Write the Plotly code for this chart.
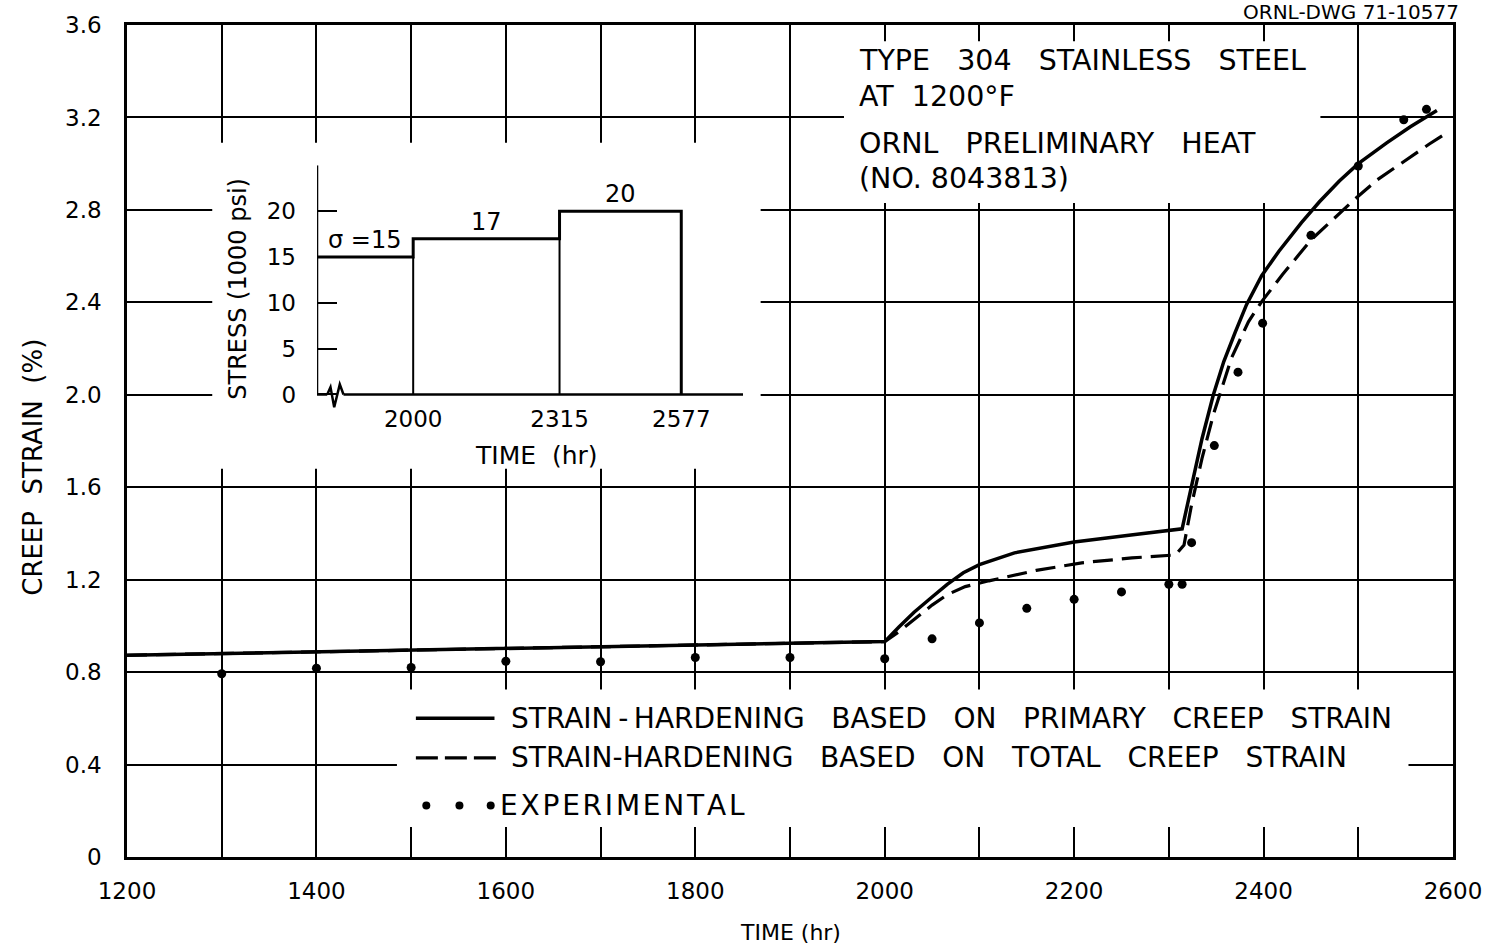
import plotly.graph_objects as go

FONT = "DejaVu Sans"

# Strain-hardening prediction based on primary creep strain (%)
t_primary = [1200, 1300, 1400, 1500, 1600, 1700, 1800, 1900, 2000, 2015, 2031, 2050,
             2066, 2083, 2100, 2137, 2170, 2200, 2260, 2314, 2324, 2335, 2347, 2358,
             2370, 2382, 2398, 2416, 2440, 2459, 2480, 2500, 2530, 2555, 2583]
eps_primary = [0.873, 0.880, 0.887, 0.895, 0.902, 0.910, 0.917, 0.925, 0.932, 0.995, 1.059, 1.125,
               1.180, 1.230, 1.265, 1.316, 1.342, 1.363, 1.393, 1.420, 1.606, 1.810, 2.000, 2.144,
               2.270, 2.390, 2.515, 2.620, 2.745, 2.835, 2.925, 3.000, 3.090, 3.160, 3.230]

# Strain-hardening prediction based on total creep strain (%)
t_total = [1200, 1300, 1400, 1500, 1600, 1700, 1800, 1900, 2000, 2015, 2032, 2050,
           2066, 2085, 2110, 2160, 2208, 2261, 2307, 2316, 2324, 2335, 2347, 2354,
           2366, 2384, 2398, 2420, 2437, 2450, 2475, 2496, 2520, 2550, 2575, 2594]
eps_total = [0.873, 0.880, 0.887, 0.895, 0.902, 0.910, 0.917, 0.925, 0.932, 0.975, 1.030, 1.090,
             1.135, 1.170, 1.195, 1.240, 1.273, 1.294, 1.307, 1.350, 1.525, 1.725, 1.914, 2.007,
             2.158, 2.316, 2.403, 2.520, 2.605, 2.670, 2.765, 2.845, 2.930, 3.015, 3.085, 3.135]

# Experimental creep strain (%)
t_exp = [1300, 1400, 1500, 1600, 1700, 1800, 1900, 2000, 2050, 2100, 2150, 2200, 2250,
         2300, 2314, 2324, 2348, 2373, 2399, 2450, 2500, 2548, 2572]
eps_exp = [0.793, 0.817, 0.820, 0.847, 0.845, 0.863, 0.863, 0.858, 0.944, 1.013, 1.076, 1.115,
           1.147, 1.180, 1.180, 1.360, 1.780, 2.098, 2.310, 2.690, 2.990, 3.190, 3.235]

# Stress history for the inset (1000 psi)
step_end_times = [2000, 2315, 2577]
step_stress = [15, 17, 20]
inset_t_start = 1793
inset_t_end = 2710

x_ticks = list(range(1200, 2601, 100))
x_ticklabels = [str(v) if v % 200 == 0 else "" for v in x_ticks]
y_ticks = [0, 0.4, 0.8, 1.2, 1.6, 2.0, 2.4, 2.8, 3.2, 3.6]
y_ticklabels = ["0", "0.4", "0.8", "1.2", "1.6", "2.0", "2.4", "2.8", "3.2", "3.6"]
inset_y_ticks = [0, 5, 10, 15, 20]

fig = go.Figure()

fig.add_trace(go.Scatter(x=t_primary, y=eps_primary, mode="lines",
                         line=dict(color="black", width=3.5), showlegend=False,
                         xaxis="x", yaxis="y"))
fig.add_trace(go.Scatter(x=t_total, y=eps_total, mode="lines",
                         line=dict(color="black", width=3.2, dash="20px,9px"),
                         showlegend=False, xaxis="x", yaxis="y"))
fig.add_trace(go.Scatter(x=t_exp, y=eps_exp, mode="markers",
                         marker=dict(color="black", size=9), showlegend=False,
                         xaxis="x", yaxis="y"))

# ---- inset: stepped stress history ----
sx, sy = [inset_t_start], [step_stress[0]]
for i, (t, s) in enumerate(zip(step_end_times, step_stress)):
    sx.append(t)
    sy.append(s)
    if i + 1 < len(step_stress):
        sx.append(t)
        sy.append(step_stress[i + 1])
sx.append(step_end_times[-1])
sy.append(0)
fig.add_trace(go.Scatter(x=sx, y=sy, mode="lines", line=dict(color="black", width=3),
                         showlegend=False, xaxis="x2", yaxis="y2"))
for t, s in zip(step_end_times[:-1], step_stress[:-1]):
    fig.add_trace(go.Scatter(x=[t, t], y=[0, s], mode="lines",
                             line=dict(color="black", width=2), showlegend=False,
                             xaxis="x2", yaxis="y2"))

shapes = []
# blank regions of the main grid (inset, note block, key)
for x0, x1, y0, y1 in [(1290, 1869, 1.68, 3.09), (1957, 2460, 2.83, 3.53),
                       (1485, 2553, 0.13, 0.725)]:
    shapes.append(dict(type="rect", xref="x", yref="y", x0=x0, x1=x1, y0=y0, y1=y1,
                       fillcolor="white", line=dict(width=0), layer="between"))

# inset axes with a break mark on the time axis
brk = "M 1815,0 L 1822,0.8 L 1830,-1.4 L 1842,1.1 L 1850,0"
shapes += [
    dict(type="line", xref="x2", yref="y2", x0=inset_t_start, x1=inset_t_start, y0=0, y1=25,
         line=dict(color="black", width=2.5)),
    dict(type="line", xref="x2", yref="y2", x0=inset_t_start, x1=1815, y0=0, y1=0,
         line=dict(color="black", width=2.5)),
    dict(type="path", xref="x2", yref="y2", path=brk, line=dict(color="black", width=2.5)),
    dict(type="line", xref="x2", yref="y2", x0=1850, x1=inset_t_end, y0=0, y1=0,
         line=dict(color="black", width=2.5)),
]

# key samples
shapes += [
    dict(type="line", xref="x", yref="y", x0=1505, x1=1588, y0=0.600, y1=0.600,
         line=dict(color="black", width=3.5)),
    dict(type="line", xref="x", yref="y", x0=1505, x1=1592, y0=0.429, y1=0.429,
         line=dict(color="black", width=3.2, dash="22px,7px")),
]
for kx in [1516, 1551, 1584]:
    shapes.append(dict(type="circle", xref="x", yref="y", xsizemode="pixel", ysizemode="pixel",
                       xanchor=kx, yanchor=0.223, x0=-4, x1=4, y0=-4, y1=4,
                       fillcolor="black", line=dict(width=0)))

SP = "\u00a0\u00a0\u00a0"
annotations = []
key_rows = [
    ("STRAIN\u2009-\u2009HARDENING" + SP + "BASED" + SP + "ON" + SP + "PRIMARY" + SP + "CREEP" + SP + "STRAIN", 0.600, 1603),
    ("STRAIN-HARDENING" + SP + "BASED" + SP + "ON" + SP + "TOTAL" + SP + "CREEP" + SP + "STRAIN", 0.429, 1603),
    ("E\u200aX\u200aP\u200aE\u200aR\u200aI\u200aM\u200aE\u200aN\u200aT\u200aA\u200aL", 0.223, 1592),
]
for txt, yy, xx in key_rows:
    annotations.append(dict(x=xx, y=yy, xref="x", yref="y", text=txt,
                            showarrow=False, xanchor="left", yanchor="middle",
                            font=dict(family=FONT, size=28, color="black")))

note_rows = [("TYPE" + SP + "304" + SP + "STAINLESS" + SP + "STEEL", 3.447),
             ("AT\u00a0\u00a01200°F", 3.29),
             ("ORNL" + SP + "PRELIMINARY" + SP + "HEAT", 3.087),
             ("(NO.\u00a08043813)", 2.937)]
for txt, yy in note_rows:
    annotations.append(dict(x=1971, y=yy, xref="x", yref="y", text=txt, showarrow=False,
                            xanchor="left", yanchor="middle",
                            font=dict(family=FONT, size=28.5, color="black")))

# stress values over each step
seg_starts = [inset_t_start] + step_end_times[:-1]
for i, (a, b, s) in enumerate(zip(seg_starts, step_end_times, step_stress)):
    txt = ("σ\u00a0=" + str(s)) if i == 0 else str(s)
    annotations.append(dict(x=(a + b) / 2, y=s + 0.1, xref="x2", yref="y2", text=txt,
                            showarrow=False, xanchor="center", yanchor="bottom",
                            font=dict(family=FONT, size=24, color="black")))

annotations += [
    dict(x=0.0837, y=0.683, xref="paper", yref="paper", text="STRESS\u00a0(1000\u00a0psi)",
         textangle=-90, showarrow=False, xanchor="center", yanchor="middle",
         font=dict(family=FONT, size=24, color="black")),
    dict(x=0.3092, y=0.482, xref="paper", yref="paper", text="TIME\u00a0\u00a0(hr)",
         showarrow=False, xanchor="center", yanchor="middle",
         font=dict(family=FONT, size=25, color="black")),
    dict(x=0.5, y=-0.0905, xref="paper", yref="paper", text="TIME\u00a0(hr)",
         showarrow=False, xanchor="center", yanchor="middle",
         font=dict(family=FONT, size=22, color="black")),
    dict(x=-0.0709, y=0.469, xref="paper", yref="paper", text="CREEP\u00a0\u00a0STRAIN\u00a0\u00a0(%)",
         textangle=-90, showarrow=False, xanchor="center", yanchor="middle",
         font=dict(family=FONT, size=26, color="black")),
    dict(x=1.006, y=1.016, xref="paper", yref="paper", text="ORNL-DWG\u00a071-10577",
         showarrow=False, xanchor="right", yanchor="middle",
         font=dict(family=FONT, size=20, color="black")),
]

fig.update_layout(
    width=1501, height=949,
    margin=dict(l=127, r=48, t=17, b=92),
    paper_bgcolor="white", plot_bgcolor="white",
    font=dict(family=FONT, color="black"),
    showlegend=False,
    xaxis=dict(range=[1200, 2600], tickvals=x_ticks, ticktext=x_ticklabels,
               showgrid=True, gridcolor="black", gridwidth=1.8, zeroline=False,
               showline=True, mirror=True, linecolor="black", linewidth=2.5,
               ticks="", ticklabelstandoff=12, tickfont=dict(size=23)),
    yaxis=dict(range=[0, 3.6], tickvals=y_ticks, ticktext=y_ticklabels,
               showgrid=True, gridcolor="black", gridwidth=1.8, zeroline=False,
               showline=True, mirror=True, linecolor="black", linewidth=2.5,
               ticks="", ticklabelstandoff=18, tickfont=dict(size=23)),
    xaxis2=dict(domain=[0.1433, 0.4646], range=[inset_t_start, inset_t_end], anchor="y2",
                tickvals=step_end_times, ticktext=[str(t) for t in step_end_times],
                showgrid=False, zeroline=False, showline=False, ticks="",
                ticklabelstandoff=-10, tickfont=dict(size=23)),
    yaxis2=dict(domain=[0.5339, 0.8313], range=[-2, 25], anchor="x2",
                tickvals=inset_y_ticks, showgrid=False, zeroline=False, showline=False,
                ticks="inside", ticklen=20, tickwidth=2, tickcolor="black",
                ticklabelstandoff=20, tickfont=dict(size=23)),
    shapes=shapes,
    annotations=annotations,
)

fig.write_html("out.html")
